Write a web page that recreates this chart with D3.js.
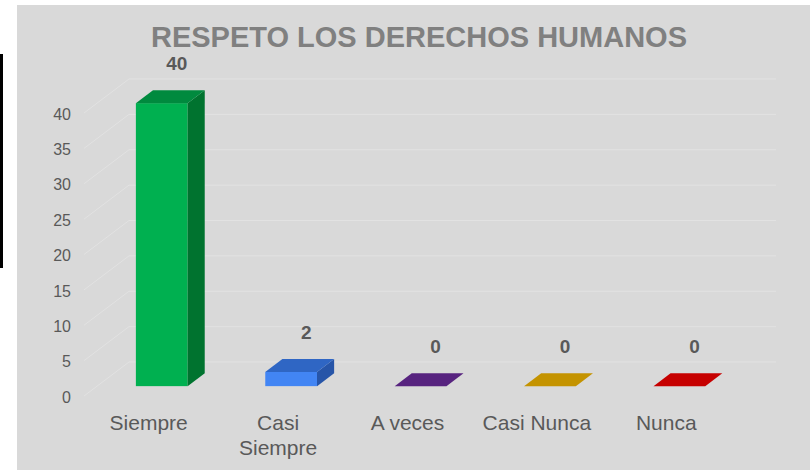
<!DOCTYPE html>
<html>
<head>
<meta charset="utf-8">
<script src="https://cdn.jsdelivr.net/npm/d3@7"></script>
<style>
  body { margin: 0; background: #fff; }
  svg { display: block; font-family: Arial, "Liberation Sans", sans-serif; }
</style>
</head>
<body>
<div id="chart-area"></div>
<script>
//DATA-----------------------------------------------------------------------
const categories = ["Siempre", "Casi Siempre", "A veces", "Casi Nunca", "Nunca"]
const values = [40, 2, 0, 0, 0]
const yTicks = [0, 5, 10, 15, 20, 25, 30, 35, 40]
const title = "RESPETO LOS DERECHOS HUMANOS"

// colours for front / top / right side of each bar
const frontColors = ["#00b050", "#4285f4", "#6a2c96", "#d9a000", "#d40000"]
const topColors   = ["#008a3e", "#2f66c4", "#57237f", "#c49300", "#c60000"]
const sideColors  = ["#00732f", "#2755a8", "#481c6a", "#a67c00", "#a00000"]

//SVG------------------------------------------------------------------------
const WIDTH = 810
const HEIGHT = 470
const svg = d3.select("#chart-area").append("svg")
  .attr("width", WIDTH)
  .attr("height", HEIGHT)

// black strip on the left edge + grey panel
svg.append("rect").attr("x", 0).attr("y", 54).attr("width", 3).attr("height", 214).attr("fill", "#000")
svg.append("rect").attr("x", 17).attr("y", 5).attr("width", WIDTH - 17).attr("height", HEIGHT - 5).attr("fill", "#d9d9d9")

//SCALES---------------------------------------------------------------------
const xScale = d3.scaleBand().domain(categories).range([84, 731])
const yScale = d3.scaleLinear().domain([0, 40]).range([396, 113])

// fake 3d: depth 0 = front plane, depth 1 = back wall
const DEPTH = { DX: 45, DY: -34 }
const BAR_D0 = 0.29, BAR_D1 = 0.67
const proj = (x, y, d) => [x + d * DEPTH.DX, y + d * DEPTH.DY]

//GRID-----------------------------------------------------------------------
const xBackEnd = xScale.range()[1] + DEPTH.DX
const grid = svg.append("g").attr("stroke", "#e2e2e2").attr("stroke-width", 1).attr("fill", "none")
yTicks.forEach(t => {
  const f = proj(xScale.range()[0], yScale(t), 0)
  const b = proj(xScale.range()[0], yScale(t), 1)
  grid.append("path")
    .attr("d", `M${f[0]},${f[1]}L${b[0]},${b[1]}L${xBackEnd},${b[1]}`)
})

//AXES-----------------------------------------------------------------------
const yAxis = d3.axisLeft(yScale).tickValues(yTicks).tickSize(0).tickPadding(13)
const gAxisY = svg.append("g")
  .attr("transform", `translate(${xScale.range()[0]}, 1)`)
  .call(yAxis)
gAxisY.select(".domain").remove()
gAxisY.selectAll("text")
  .attr("font-size", 16)
  .attr("font-family", "Arial, 'Liberation Sans', sans-serif")
  .attr("fill", "#595959")

// category labels, wrapped when too wide
const catG = svg.append("g")
categories.forEach(c => {
  const cx = xScale(c) + xScale.bandwidth() / 2
  const txt = catG.append("text")
    .attr("x", cx).attr("y", 430)
    .attr("text-anchor", "middle")
    .attr("font-size", 21)
    .attr("fill", "#595959")
    .text(c)
  if (txt.node().getComputedTextLength() > 115) {
    const words = c.split(" ")
    txt.text(null)
    words.forEach((w, i) => {
      txt.append("tspan").attr("x", cx).attr("dy", i === 0 ? 0 : 25).text(w)
    })
  }
})

//BARS-----------------------------------------------------------------------
const barW = xScale.bandwidth() * 0.4
const bars = svg.append("g")
const pts = arr => arr.map(p => p.join(",")).join(" ")

values.forEach((v, i) => {
  const cx = xScale(categories[i]) + xScale.bandwidth() / 2
  const xl = cx - barW / 2, xr = cx + barW / 2
  const yb = yScale(0), yt = yScale(v)

  if (v > 0) {
    const fl = proj(xl, yt, BAR_D0), fr = proj(xr, yb, BAR_D0)
    bars.append("rect")
      .attr("x", fl[0]).attr("y", fl[1])
      .attr("width", fr[0] - fl[0]).attr("height", fr[1] - fl[1])
      .attr("fill", frontColors[i])
    bars.append("polygon")
      .attr("points", pts([proj(xr, yt, BAR_D0), proj(xr, yb, BAR_D0), proj(xr, yb, BAR_D1), proj(xr, yt, BAR_D1)]))
      .attr("fill", sideColors[i])
  }
  bars.append("polygon")
    .attr("points", pts([proj(xl, yt, BAR_D0), proj(xr, yt, BAR_D0), proj(xr, yt, BAR_D1), proj(xl, yt, BAR_D1)]))
    .attr("fill", topColors[i])

  // value label
  const lp = proj(cx, yt, BAR_D1)
  bars.append("text")
    .attr("x", lp[0] - 2).attr("y", lp[1] - 20)
    .attr("text-anchor", "middle")
    .attr("font-size", 19)
    .attr("font-weight", "bold")
    .attr("fill", "#595959")
    .text(v)
})

//TITLE----------------------------------------------------------------------
svg.append("text")
  .attr("x", 419).attr("y", 47)
  .attr("text-anchor", "middle")
  .attr("font-size", 29)
  .attr("font-weight", "bold")
  .attr("fill", "#808080")
  .text(title)
</script>
</body>
</html>
